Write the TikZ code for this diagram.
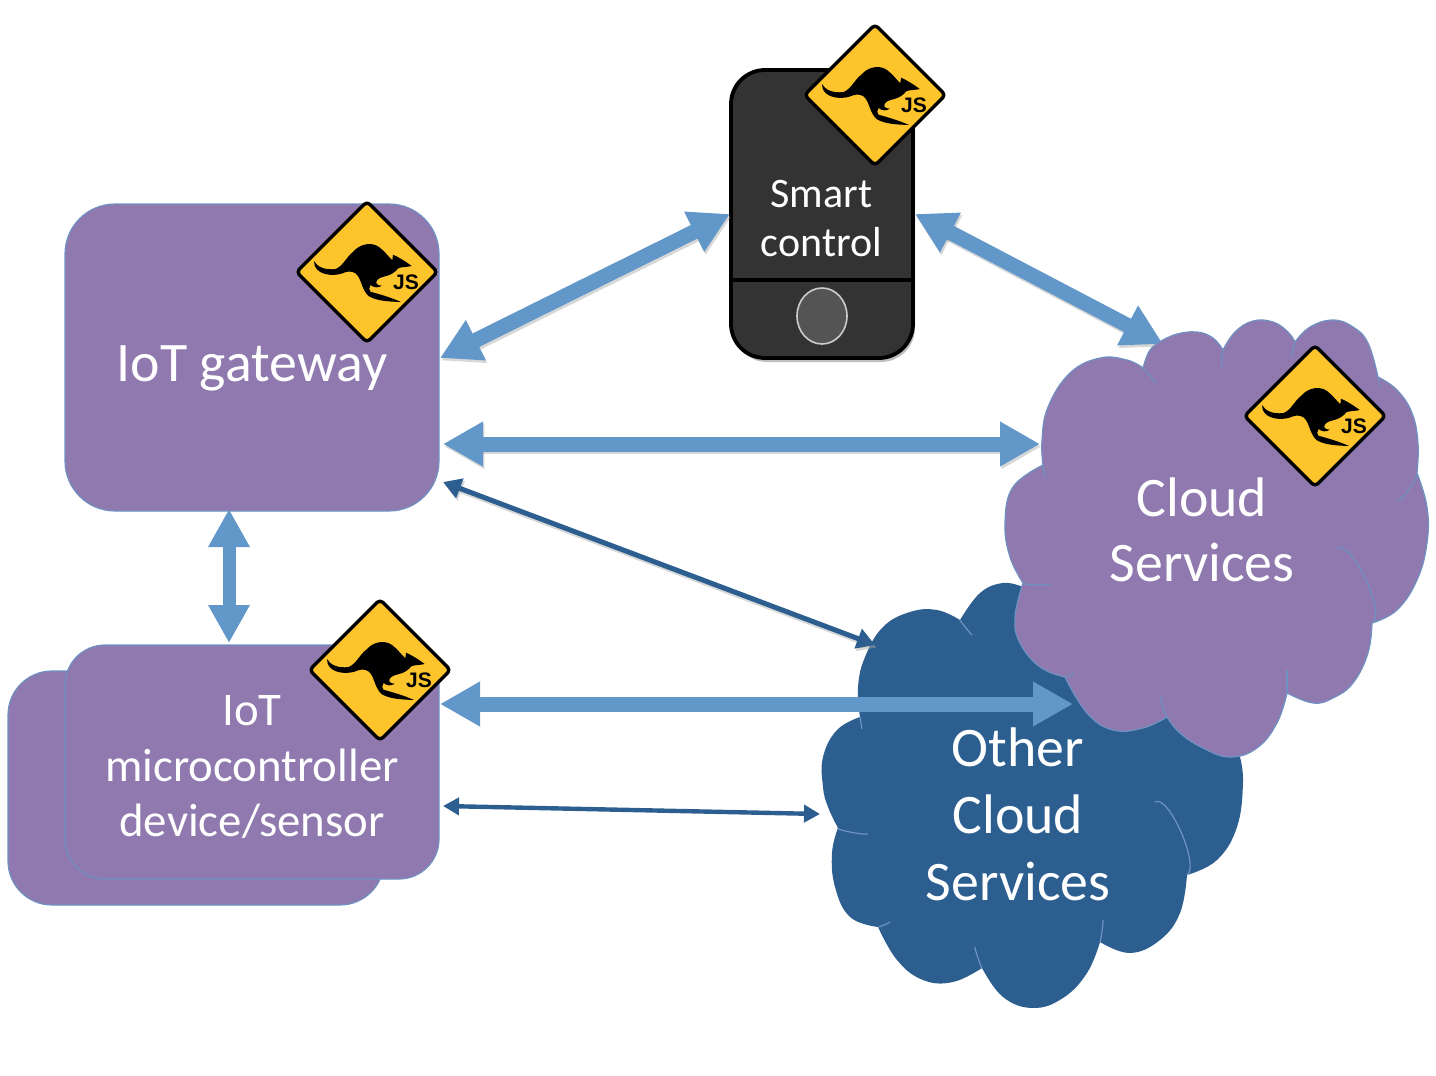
\documentclass[tikz,border=0pt]{standalone}
\usepackage{fontspec}
\setmainfont{Carlito}
\newfontfamily\signfont{Liberation Sans}
\usetikzlibrary{arrows.meta,shapes.geometric}
\definecolor{purp}{HTML}{8F79AE}
\definecolor{deep}{HTML}{2C5F90}
\definecolor{sky}{HTML}{6197C9}
\definecolor{edge}{HTML}{6F92C2}
\definecolor{signy}{HTML}{FDC42C}
\def\lb(#1,#2,#3,#4,#5,#6){.. controls ({#1+4/3*(#3-(#1+#5)/2)},{#2+4/3*(#4-(#2+#6)/2)}) and ({#5+4/3*(#3-(#1+#5)/2)},{#6+4/3*(#4-(#2+#6)/2)}) .. (#5,#6)}
\def\lob#1{-- plot[smooth,tension=.7] coordinates {#1}}
\tikzset{
  box/.style={draw=edge,line width=.6pt,fill=purp,rounded corners=#1,inner sep=0pt},
  lbl/.style={text=white,align=center,inner sep=0pt},
  big/.style={draw=sky,line width=7.5pt,{Triangle[length=20pt,width=21pt,fill=sky]}-{Triangle[length=20pt,width=21pt,fill=sky]}},
  bigv/.style={draw=sky,line width=6.5pt,{Triangle[length=19pt,width=19.5pt,fill=sky]}-{Triangle[length=19pt,width=19.5pt,fill=sky]}},
  bigshadow/.style={draw=black!35,opacity=.45,line width=7.5pt,{Triangle[length=20pt,width=21pt]}-{Triangle[length=20pt,width=21pt]}},
  thinA/.style={draw=deep,line width=2.5pt,{Triangle[length=9pt,width=10pt]}-{Triangle[length=9pt,width=10pt]}},
  thinB/.style={draw=deep,line width=2.2pt,{Triangle[length=8pt,width=8.5pt]}-{Triangle[length=8pt,width=8.5pt]}},
  thinshadow/.style={draw=black!35,opacity=.45,line width=2.5pt,{Triangle[length=9pt,width=10pt]}-{Triangle[length=9pt,width=10pt]}},
  jssign/.pic={
    \draw[fill=signy,draw=black,line width=1.7pt,line join=round,rounded corners=2pt]
      (0,-70.5) -- (70.5,0) -- (0,70.5) -- (-70.5,0) -- cycle;
    \begin{scope}[x=.1667pt,y=-.1667pt,shift={(-186,-111)}]
      \fill[black] (27,78) .. controls (37,96) and (60,106) .. (92,102)
        .. controls (115,92) and (125,65) .. (145,50)
        .. controls (165,26) and (200,20) .. (222,36)
        .. controls (238,48) and (248,62) .. (262,76)
        .. controls (263,70) and (263,64) .. (264,59)
        .. controls (280,66) and (300,78) .. (320,93)
        .. controls (305,97) and (290,95) .. (280,100)
        .. controls (270,112) and (258,120) .. (240,124)
        .. controls (222,128) and (212,135) .. (214,145)
        .. controls (216,150) and (222,152) .. (230,152)
        .. controls (220,160) and (205,158) .. (197,150)
        .. controls (193,157) and (190,165) .. (196,170)
        .. controls (225,178) and (260,188) .. (288,201)
        .. controls (255,200) and (215,198) .. (192,184)
        .. controls (172,168) and (170,138) .. (158,122)
        .. controls (150,110) and (135,107) .. (120,112)
        .. controls (95,124) and (55,122) .. (38,105)
        .. controls (30,97) and (26,88) .. (27,78) -- cycle;
    \end{scope}
    \node[inner sep=0pt] (js) at (39,10) {\signfont\bfseries\fontsize{10.5pt}{11pt}\selectfont JS};
  }
}
\begin{document}
\begin{tikzpicture}[x=.5pt,y=-.5pt]
\useasboundingbox (0,0) rectangle (1436,1076);
% other cloud
\fill[deep] (960,620)
  \lob{(960,620)(937,610)(910,612)(883,627)(865,657)(858,687)(860,717)}
  \lob{(860,717)(837,730)(823,757)(823,787)(828,807)(838,828)}
  \lob{(838,828)(832,853)(835,887)(850,917)(878,927)}
  \lob{(878,927)(897,960)(923,980)(953,982)(982,968)}
  \lob{(982,968)(1003,997)(1033,1008)(1063,998)(1087,973)(1100,942)}
  \lob{(1100,942)(1130,953)(1160,940)(1180,913)(1187,875)}
  \lob{(1187,875)(1217,860)(1237,827)(1243,783)(1240,757)}
  -- (1230,740) -- (1030,590)
  \lob{(1023,587)(1003,583)(980,593)(960,620)} -- cycle;
\begin{scope}[draw=edge,line width=.6pt]
  \draw (960,620) \lb(960,620,966,628,972,635);
  \draw (860,717) \lb(860,717,861,723,862,729);
  \draw (838,828) \lb(838,828,850,832,868,834);
  \draw (878,927) \lb(878,927,884,925,890,922);
  \draw (982,968) \lb(982,968,978,958,975,947);
  \draw (1100,942) \lb(1100,942,1102,931,1103,920);
  \draw (1187,875) \lb(1187,875,1181,832,1155,802);
\end{scope}
% connectors
\coordinate (gwA) at (440,358); \coordinate (scA) at (730,214);
\coordinate (scB) at (915,214); \coordinate (csA) at (1163,344);
\coordinate (gwB) at (443,444); \coordinate (csB) at (1040,444);
\coordinate (gwC) at (443,482); \coordinate (ocA) at (875,645);
\coordinate (gwD) at (229,509); \coordinate (mcA) at (229,643);
\coordinate (mcB) at (440,704); \coordinate (csC) at (1073,704);
\coordinate (mcC) at (443,806); \coordinate (ocB) at (820,814);
% back device
\node[box=22pt,minimum width=188pt,minimum height=117pt] (back) at (196,788) {};
% phone
\fill[black!25,rounded corners=17pt] (733,76) rectangle (915,362);
\node[draw=black,line width=1.9pt,fill=black!80,rounded corners=17pt,minimum width=91pt,minimum height=144pt,inner sep=0pt] (phone) at (822,214) {};
\draw[black,line width=2.2pt] (phone.west |- 0,280) -- (phone.east |- 0,280);
\node[draw=black!20,fill=black!67,line width=.8pt,ellipse,minimum width=25pt,minimum height=28pt,inner sep=0pt] (btn) at (822,316) {};
% arrows
\begin{scope}[transform canvas={shift={(.7pt,-1.3pt)}}]
  \draw[bigshadow] (gwA) -- (scA);
  \draw[bigshadow] (scB) -- (csA);
  \draw[bigshadow] (gwB) -- (csB);
  \draw[thinshadow] (gwC) -- (ocA);
\end{scope}
\draw[big] (gwA) -- (scA);
\draw[big] (scB) -- (csA);
\draw[big] (gwB) -- (csB);
\draw[thinA] (gwC) -- (ocA);
\draw[bigv] (gwD) -- (mcA);
\draw[big] (mcB) -- (csC);
\draw[thinB] (mcC) -- (ocB);
% nodes
\node[box=25pt,minimum width=187pt,minimum height=153.5pt] (gw) at (252,357.5) {};
\node[box=20pt,minimum width=187pt,minimum height=117pt] (mc) at (252,762) {};
% cloud
\path[fill=purp,draw=edge,line width=.6pt] (1163,340)
  \lob{(1163,340)(1177,334)(1197,332)(1213,338)(1223,350)}
  \lob{(1223,350)(1235,332)(1253,321)(1273,322)(1288,332)(1295,342)}
  \lob{(1295,342)(1310,327)(1333,320)(1353,327)(1368,343)(1378,377)}
  \lob{(1378,377)(1397,390)(1412,413)(1418,443)(1417,473)}
  \lob{(1417,473)(1427,507)(1427,543)(1417,580)(1397,610)(1372,623)}
  \lob{(1372,623)(1368,653)(1353,683)(1333,698)(1313,703)(1287,693)}
  \lob{(1287,693)(1277,723)(1257,748)(1230,757)(1203,748)(1180,733)(1167,717)}
  \lob{(1167,717)(1143,728)(1113,730)(1087,713)(1065,677)}
  \lob{(1065,677)(1040,667)(1020,643)(1015,617)(1023,583)}
  \lob{(1023,583)(1010,557)(1005,523)(1013,487)(1043,465)}
  \lob{(1043,465)(1042,440)(1048,407)(1070,373)(1100,358)(1127,360)(1143,368)}
  \lob{(1143,368)(1150,350)(1163,340)} -- cycle;
\begin{scope}[draw=edge,line width=.6pt]
  \draw (1043,465) \lb(1043,465,1044,471,1045,477);
  \draw (1023,583) \lb(1023,583,1036,585,1050,584);
  \draw (1065,677) \lb(1065,677,1071,675,1073,672);
  \draw (1167,717) \lb(1167,717,1163,707,1160,695);
  \draw (1287,693) \lb(1287,693,1287,681,1287,670);
  \draw (1372,623) \lb(1372,623,1366,580,1337,548);
  \draw (1143,368) \lb(1143,368,1150,376,1155,383);
  \draw (1223,350) \lb(1223,350,1222,358,1222,367);
  \draw (1295,342) \lb(1295,342,1293,349,1291,357);
  \draw (1378,377) \lb(1378,377,1379,382,1380,387);
  \draw (1417,473) \lb(1417,473,1410,488,1398,500);
\end{scope}
% signs
\pic (s1) at (367,272) {jssign};
\pic (s2) at (875,95) {jssign};
\pic (s3) at (1315,416) {jssign};
\pic (s4) at (380,670) {jssign};
% labels
\node[lbl,font=\fontsize{27.9pt}{33pt}\selectfont] (tgw) at (252,368) {IoT gateway};
\node[lbl,font=\fontsize{21pt}{24.5pt}\selectfont] (tsc) at (821.5,218.5) {Smart\\control};
\node[lbl,font=\fontsize{27.9pt}{32.5pt}\selectfont] (tcs) at (1202,530) {Cloud\\Services};
\node[lbl,font=\fontsize{27.9pt}{33.5pt}\selectfont] (toc) at (1018,814) {Other\\Cloud\\Services};
\node[lbl,font=\fontsize{23.4pt}{27.7pt}\selectfont] (tmc) at (252,767) {IoT\\microcontroller\\device/sensor};
\end{tikzpicture}
\end{document}
